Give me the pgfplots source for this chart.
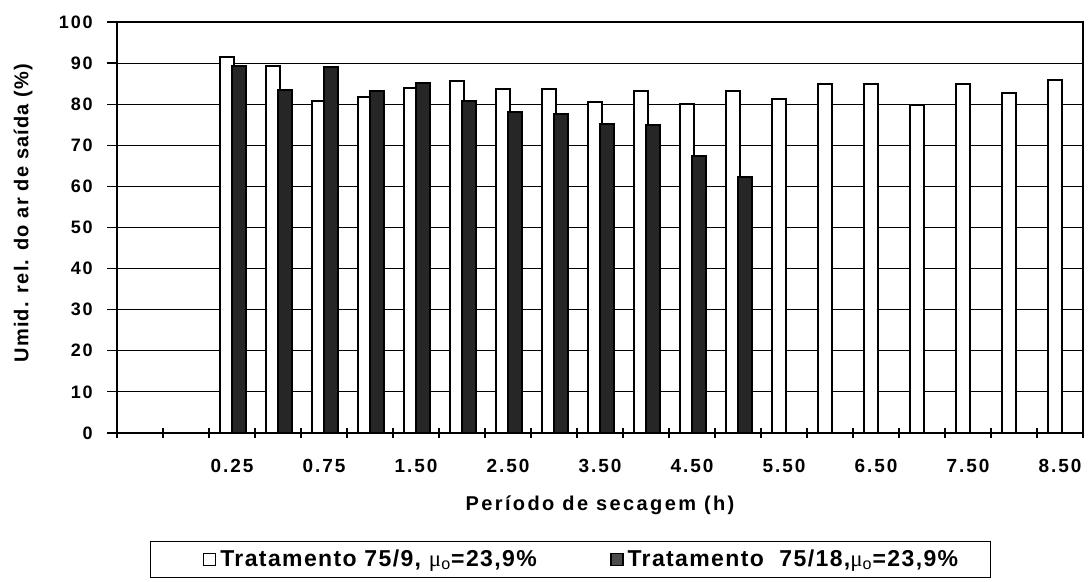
\documentclass[border=0pt]{standalone}
\usepackage{fontspec}
\setmainfont{Liberation Sans}
\newfontfamily\tickfont[LetterSpace=10]{Liberation Sans}
\newfontfamily\labfont[LetterSpace=12]{Liberation Sans}
\newfontfamily\ylabfont[LetterSpace=6]{Liberation Sans}
\newfontfamily\legfont[LetterSpace=6]{Liberation Sans}
\newfontfamily\symfont{Liberation Serif}
\usepackage{pgfplots}
\pgfplotsset{compat=1.18}
\newcommand\textA{Tratamento 75/9, {\mdseries\symfont μ}\textsubscript{\mdseries o}=23,9\%}
\newcommand\textB{Tratamento\ \ 75/18,{\mdseries\symfont μ}\textsubscript{\mdseries o}=23,9\%}
\begin{document}
\begin{tikzpicture}
\path[use as bounding box] (-58.5pt,-74.5pt) rectangle (485.5pt,216.5pt);
\begin{axis}[
  at={(0pt,0pt)}, anchor=south west,
  scale only axis, width=483pt, height=205.5pt,
  xmin=0.5, xmax=21.5, ymin=0, ymax=100,
  ytick={0,10,...,100},
  ymajorgrids,
  major grid style={black, line width=0.55pt},
  axis line style={black, line width=0.8pt},
  xtick={0.5,1.5,...,21.5}, xticklabels=\empty,
  extra x ticks={1,3,...,21},
  extra x tick labels={,0.25,0.75,1.50,2.50,3.50,4.50,5.50,6.50,7.50,8.50},
  extra x tick style={major tick length=0pt, grid=none},
  xtick pos=bottom, ytick pos=left,
  xtick align=center, ytick align=outside,
  major tick length=5pt,
  xtick style={black, line width=0.6pt},
  ytick style={black, line width=0.6pt},
  /pgf/number format/assume math mode=true,
  yticklabel style={font=\tickfont\fontsize{9}{10}\bfseries, anchor=east, inner sep=0pt, xshift=-7pt},
  xticklabel style={font=\tickfont\fontsize{9.5}{10}\bfseries, anchor=north, inner sep=0pt, yshift=-13pt},
  xlabel={Período de secagem (h)},
  xlabel style={font=\labfont\fontsize{10}{11}\bfseries, at={(axis description cs:0.5,0)}, anchor=center, yshift=-36pt},
  ylabel={Umid. rel. do ar de saída (\%)},
  ylabel style={font=\ylabfont\fontsize{10}{11}\bfseries, at={(axis description cs:0,0.535)}, anchor=center, yshift=47pt},
  legend columns=2,
  legend style={at={(axis description cs:0.0342,-0.2628)}, anchor=north west,
    draw=black, line width=0.5pt, inner xsep=14pt, inner ysep=2pt,
    font=\legfont\fontsize{11.5}{12}\bfseries,
    /tikz/every even column/.append style={column sep=34.6pt}},
]
\addplot[ybar, bar width=7pt, bar shift=-2.5pt, fill=white, draw=black, line width=1pt,
  legend image code/.code={\path (-12pt,0pt); \draw[black, fill=white, line width=0.8pt] (0pt,-3pt) rectangle (6pt,3pt);}]
  coordinates {
  (3,91.5) (4,89.2) (5,80.8) (6,81.8) (7,84.0) (8,85.6) (9,83.6) (10,83.6)
  (11,80.5) (12,83.3) (13,80.1) (14,83.3) (15,81.3) (16,84.9) (17,84.9)
  (18,79.9) (19,84.9) (20,82.8) (21,85.9)};
\addlegendentry{\textA}
\addplot[ybar, bar width=7pt, bar shift=3.6pt, fill=black!85, draw=black, line width=1pt,
  legend image code/.code={\draw[black, line width=0.8pt, fill=black!70] (0pt,-3pt) rectangle (6pt,3pt);}]
  coordinates {
  (3,89.2) (4,83.4) (5,89.0) (6,83.1) (7,85.1) (8,80.8) (9,78.0) (10,77.7)
  (11,75.1) (12,75.0) (13,67.5) (14,62.4)};
\addlegendentry{\textB}
\end{axis}
\end{tikzpicture}
\end{document}
